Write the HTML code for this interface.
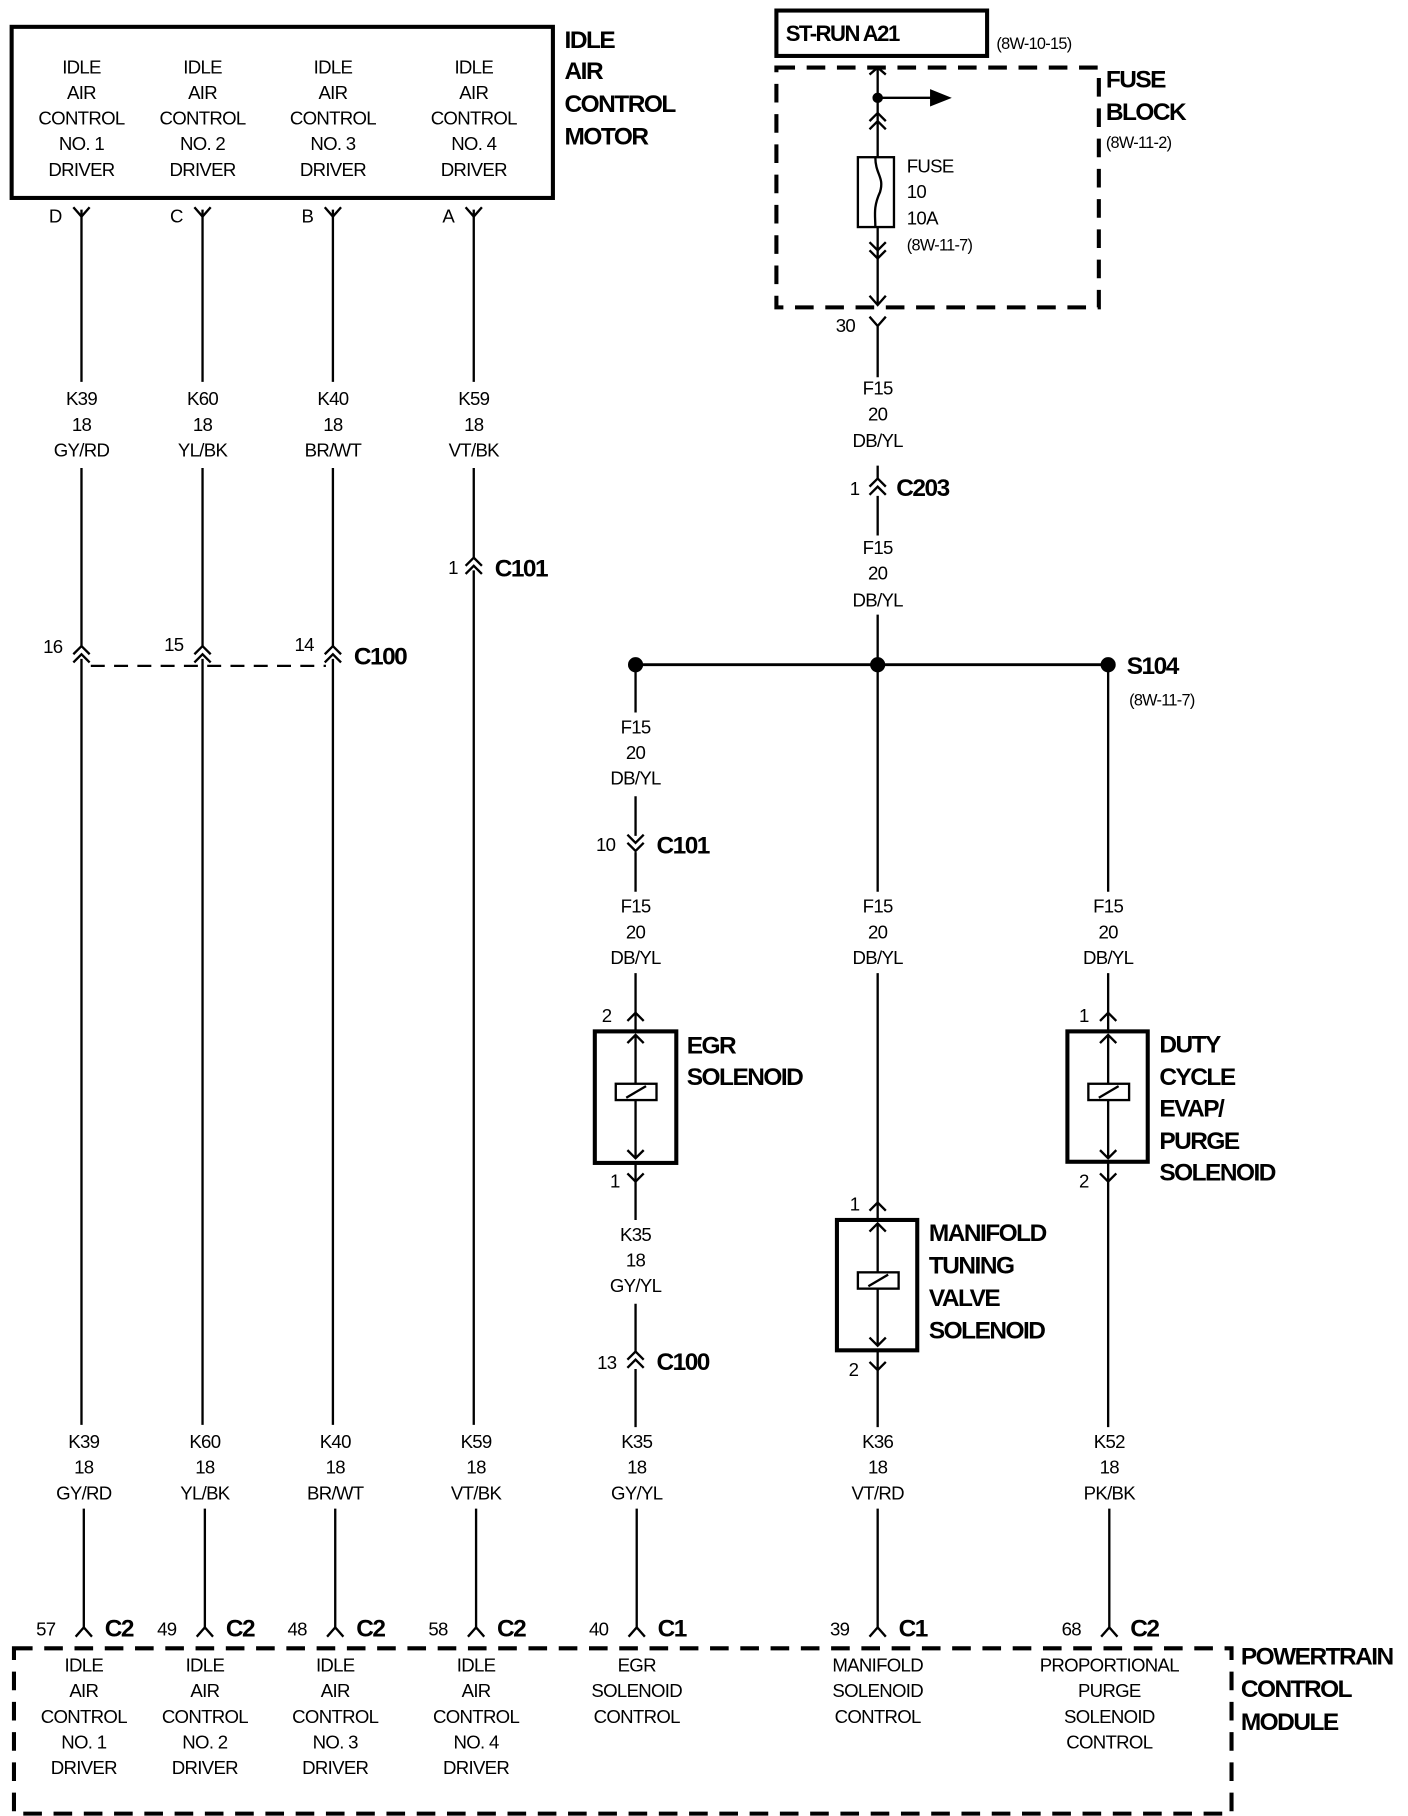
<!DOCTYPE html>
<html><head><meta charset="utf-8"><style>
html,body{margin:0;padding:0;background:#fff}
svg{display:block}
text{font-family:"Liberation Sans Narrow","Liberation Sans",sans-serif;fill:#000;letter-spacing:-0.6px}
.t{font-size:16px;text-anchor:middle}
.l{font-size:16px}
.b{font-size:21px;font-weight:bold;letter-spacing:-1.3px}
</style></head><body>
<svg width="1408" height="1816" viewBox="0 0 1209.6 1560" xmlns="http://www.w3.org/2000/svg">
<g fill="none" stroke="#000" stroke-width="2">
<rect x="10" y="23" width="465" height="147" stroke-width="3.5"/>
<path d="M70 180V328M70 402V556M70 566V1224M72 1296V1398"/>
<path d="M174 180V328M174 402V556M174 566V1224M176 1296V1398"/>
<path d="M286 180V328M286 402V556M286 566V1224M288 1296V1398"/>
<path d="M407 180V328M407 402V480M407 490V1224M409 1296V1398"/>
<path d="M63 178L70 186L77 178M167 178L174 186L181 178M279 178L286 186L293 178M400 178L407 186L414 178"/>
<path d="M63 562L70 555L77 562M63 569L70 562L77 569"/>
<path d="M167 562L174 555L181 562M167 569L174 562L181 569"/>
<path d="M279 562L286 555L293 562M279 569L286 562L293 569"/>
<path d="M78 572H280" stroke-dasharray="12 8"/>
<path d="M400 486L407 479L414 486M400 493L407 486L414 493"/>
<path d="M65 1406L72 1398L79 1406M169 1406L176 1398L183 1406M281 1406L288 1398L295 1406M402 1406L409 1398L416 1406M540 1406L547 1398L554 1406M747 1406L754 1398L761 1406M946 1406L953 1398L960 1406"/>
<path d="M12 1416H1058V1558H12Z" stroke-width="3.5" stroke-dasharray="16 10"/>
<rect x="667" y="9" width="181" height="39" stroke-width="3.5"/>
<path d="M667 58H944V264H667Z" stroke-width="3.5" stroke-dasharray="16 10"/>
<path d="M754 58V135M754 195V262"/>
<path d="M747 64L754 58L761 64"/>
<circle cx="754" cy="84" r="3.5" fill="#000"/>
<path d="M754 84H800"/>
<path d="M800 78L815 84L800 90Z" fill="#000"/>
<path d="M747 104L754 97L761 104M747 111L754 104L761 111"/>
<rect x="737" y="135" width="31" height="60"/>
<path d="M752 135C752 150 760 152 756 165C750 178 752 185 752 195"/>
<path d="M747 208L754 215L761 208M747 215L754 222L761 215M747 254L754 262L761 254"/>
<path d="M747 272L754 280L761 272M754 280V324"/>
<path d="M754 400V412M754 426V460M754 528V566"/>
<path d="M747 418L754 411L761 418M747 425L754 418L761 425"/>
<path d="M546 571H952" stroke-width="2.5"/>
<circle cx="546" cy="571" r="5.5" fill="#000"/>
<circle cx="754" cy="571" r="5.5" fill="#000"/>
<circle cx="952" cy="571" r="5.5" fill="#000"/>
<path d="M546 571V612M546 684V718M546 732V766M546 836V885M546 999V1048M546 1120V1162M546 1176V1226M547 1296V1398"/>
<path d="M539 717L546 724L553 717M539 724L546 731L553 724"/>
<path d="M539 877L546 870L553 877"/>
<rect x="511" y="886" width="70" height="113" stroke-width="3.5"/>
<path d="M546 889V995M539 896L546 889L553 896M539 988L546 995L553 988"/>
<rect x="529" y="931" width="35" height="14" fill="#fff"/>
<path d="M538 943L555 933"/>
<path d="M539 1008L546 1015L553 1008"/>
<path d="M539 1168L546 1161L553 1168M539 1175L546 1168L553 1175"/>
<path d="M754 571V766M754 836V1047M754 1160V1226M754 1296V1398"/>
<path d="M747 1040L754 1033L761 1040"/>
<rect x="719" y="1048" width="69" height="112" stroke-width="3.5"/>
<path d="M754 1051V1156M747 1058L754 1051L761 1058M747 1149L754 1156L761 1149"/>
<rect x="737" y="1093" width="35" height="14" fill="#fff"/>
<path d="M746 1105L763 1095"/>
<path d="M747 1170L754 1177L761 1170"/>
<path d="M952 571V766M952 836V885M952 999V1226M953 1296V1398"/>
<path d="M945 877L952 870L959 877"/>
<rect x="917" y="886" width="69" height="112" stroke-width="3.5"/>
<path d="M952 889V995M945 896L952 889L959 896M945 988L952 995L959 988"/>
<rect x="935" y="931" width="35" height="14" fill="#fff"/>
<path d="M944 943L961 933"/>
<path d="M945 1008L952 1015L959 1008"/>
</g>

<text class="t" x="70" y="63">IDLE</text><text class="t" x="70" y="85">AIR</text><text class="t" x="70" y="107">CONTROL</text><text class="t" x="70" y="129">NO. 1</text><text class="t" x="70" y="151">DRIVER</text>
<text class="t" x="174" y="63">IDLE</text><text class="t" x="174" y="85">AIR</text><text class="t" x="174" y="107">CONTROL</text><text class="t" x="174" y="129">NO. 2</text><text class="t" x="174" y="151">DRIVER</text>
<text class="t" x="286" y="63">IDLE</text><text class="t" x="286" y="85">AIR</text><text class="t" x="286" y="107">CONTROL</text><text class="t" x="286" y="129">NO. 3</text><text class="t" x="286" y="151">DRIVER</text>
<text class="t" x="407" y="63">IDLE</text><text class="t" x="407" y="85">AIR</text><text class="t" x="407" y="107">CONTROL</text><text class="t" x="407" y="129">NO. 4</text><text class="t" x="407" y="151">DRIVER</text>
<text class="b" x="485" y="41">IDLE</text><text class="b" x="485" y="68">AIR</text><text class="b" x="485" y="96">CONTROL</text><text class="b" x="485" y="124">MOTOR</text>
<text class="l" x="42" y="191">D</text><text class="l" x="146" y="191">C</text><text class="l" x="259" y="191">B</text><text class="l" x="380" y="191">A</text>

<text class="t" x="70" y="348">K39</text><text class="t" x="70" y="370">18</text><text class="t" x="70" y="392">GY/RD</text>
<text class="t" x="174" y="348">K60</text><text class="t" x="174" y="370">18</text><text class="t" x="174" y="392">YL/BK</text>
<text class="t" x="286" y="348">K40</text><text class="t" x="286" y="370">18</text><text class="t" x="286" y="392">BR/WT</text>
<text class="t" x="407" y="348">K59</text><text class="t" x="407" y="370">18</text><text class="t" x="407" y="392">VT/BK</text>

<text class="l" x="37" y="561">16</text><text class="l" x="141" y="559">15</text><text class="l" x="253" y="559">14</text>
<text class="b" x="304" y="571">C100</text>
<text class="l" x="385" y="493">1</text><text class="b" x="425" y="495">C101</text>

<text class="t" x="72" y="1244">K39</text><text class="t" x="72" y="1266">18</text><text class="t" x="72" y="1288">GY/RD</text>
<text class="t" x="176" y="1244">K60</text><text class="t" x="176" y="1266">18</text><text class="t" x="176" y="1288">YL/BK</text>
<text class="t" x="288" y="1244">K40</text><text class="t" x="288" y="1266">18</text><text class="t" x="288" y="1288">BR/WT</text>
<text class="t" x="409" y="1244">K59</text><text class="t" x="409" y="1266">18</text><text class="t" x="409" y="1288">VT/BK</text>
<text class="t" x="547" y="1244">K35</text><text class="t" x="547" y="1266">18</text><text class="t" x="547" y="1288">GY/YL</text>
<text class="t" x="754" y="1244">K36</text><text class="t" x="754" y="1266">18</text><text class="t" x="754" y="1288">VT/RD</text>
<text class="t" x="953" y="1244">K52</text><text class="t" x="953" y="1266">18</text><text class="t" x="953" y="1288">PK/BK</text>

<text class="l" x="31" y="1405">57</text><text class="b" x="90" y="1406">C2</text>
<text class="l" x="135" y="1405">49</text><text class="b" x="194" y="1406">C2</text>
<text class="l" x="247" y="1405">48</text><text class="b" x="306" y="1406">C2</text>
<text class="l" x="368" y="1405">58</text><text class="b" x="427" y="1406">C2</text>
<text class="l" x="506" y="1405">40</text><text class="b" x="565" y="1406">C1</text>
<text class="l" x="713" y="1405">39</text><text class="b" x="772" y="1406">C1</text>
<text class="l" x="912" y="1405">68</text><text class="b" x="971" y="1406">C2</text>

<text class="t" x="72" y="1436">IDLE</text><text class="t" x="72" y="1458">AIR</text><text class="t" x="72" y="1480">CONTROL</text><text class="t" x="72" y="1502">NO. 1</text><text class="t" x="72" y="1524">DRIVER</text>
<text class="t" x="176" y="1436">IDLE</text><text class="t" x="176" y="1458">AIR</text><text class="t" x="176" y="1480">CONTROL</text><text class="t" x="176" y="1502">NO. 2</text><text class="t" x="176" y="1524">DRIVER</text>
<text class="t" x="288" y="1436">IDLE</text><text class="t" x="288" y="1458">AIR</text><text class="t" x="288" y="1480">CONTROL</text><text class="t" x="288" y="1502">NO. 3</text><text class="t" x="288" y="1524">DRIVER</text>
<text class="t" x="409" y="1436">IDLE</text><text class="t" x="409" y="1458">AIR</text><text class="t" x="409" y="1480">CONTROL</text><text class="t" x="409" y="1502">NO. 4</text><text class="t" x="409" y="1524">DRIVER</text>
<text class="t" x="547" y="1436">EGR</text><text class="t" x="547" y="1458">SOLENOID</text><text class="t" x="547" y="1480">CONTROL</text>
<text class="t" x="754" y="1436">MANIFOLD</text><text class="t" x="754" y="1458">SOLENOID</text><text class="t" x="754" y="1480">CONTROL</text>
<text class="t" x="953" y="1436">PROPORTIONAL</text><text class="t" x="953" y="1458">PURGE</text><text class="t" x="953" y="1480">SOLENOID</text><text class="t" x="953" y="1502">CONTROL</text>
<text class="b" x="1066" y="1430">POWERTRAIN</text><text class="b" x="1066" y="1458">CONTROL</text><text class="b" x="1066" y="1486">MODULE</text>

<text class="b" x="675" y="35" style="font-size:19px">ST-RUN A21</text>
<text class="l" x="856" y="42" style="font-size:14px">(8W-10-15)</text>
<text class="b" x="950" y="75">FUSE</text><text class="b" x="950" y="103">BLOCK</text>
<text class="l" x="950" y="127" style="font-size:14px">(8W-11-2)</text>
<text class="l" x="779" y="148">FUSE</text><text class="l" x="779" y="170">10</text><text class="l" x="779" y="193">10A</text><text class="l" x="779" y="215" style="font-size:14px">(8W-11-7)</text>
<text class="l" x="718" y="285">30</text>
<text class="t" x="754" y="339">F15</text><text class="t" x="754" y="361">20</text><text class="t" x="754" y="384">DB/YL</text>
<text class="l" x="730" y="425">1</text><text class="b" x="770" y="426">C203</text>
<text class="t" x="754" y="476">F15</text><text class="t" x="754" y="498">20</text><text class="t" x="754" y="521">DB/YL</text>
<text class="b" x="968" y="579">S104</text>
<text class="l" x="970" y="606" style="font-size:14px">(8W-11-7)</text>

<text class="t" x="546" y="630">F15</text><text class="t" x="546" y="652">20</text><text class="t" x="546" y="674">DB/YL</text>
<text class="l" x="512" y="731">10</text><text class="b" x="564" y="733">C101</text>
<text class="t" x="546" y="784">F15</text><text class="t" x="546" y="806">20</text><text class="t" x="546" y="828">DB/YL</text>
<text class="t" x="754" y="784">F15</text><text class="t" x="754" y="806">20</text><text class="t" x="754" y="828">DB/YL</text>
<text class="t" x="952" y="784">F15</text><text class="t" x="952" y="806">20</text><text class="t" x="952" y="828">DB/YL</text>
<text class="l" x="517" y="878">2</text>
<text class="b" x="590" y="905">EGR</text><text class="b" x="590" y="932">SOLENOID</text>
<text class="l" x="524" y="1020">1</text>
<text class="t" x="546" y="1066">K35</text><text class="t" x="546" y="1088">18</text><text class="t" x="546" y="1110">GY/YL</text>
<text class="l" x="513" y="1176">13</text><text class="b" x="564" y="1177">C100</text>
<text class="l" x="730" y="1040">1</text>
<text class="b" x="798" y="1066">MANIFOLD</text><text class="b" x="798" y="1094">TUNING</text><text class="b" x="798" y="1122">VALVE</text><text class="b" x="798" y="1150">SOLENOID</text>
<text class="l" x="729" y="1182">2</text>
<text class="l" x="927" y="878">1</text>
<text class="b" x="996" y="904">DUTY</text><text class="b" x="996" y="932">CYCLE</text><text class="b" x="996" y="959">EVAP/</text><text class="b" x="996" y="987">PURGE</text><text class="b" x="996" y="1014">SOLENOID</text>
<text class="l" x="927" y="1020">2</text>
</svg>
</body></html>
